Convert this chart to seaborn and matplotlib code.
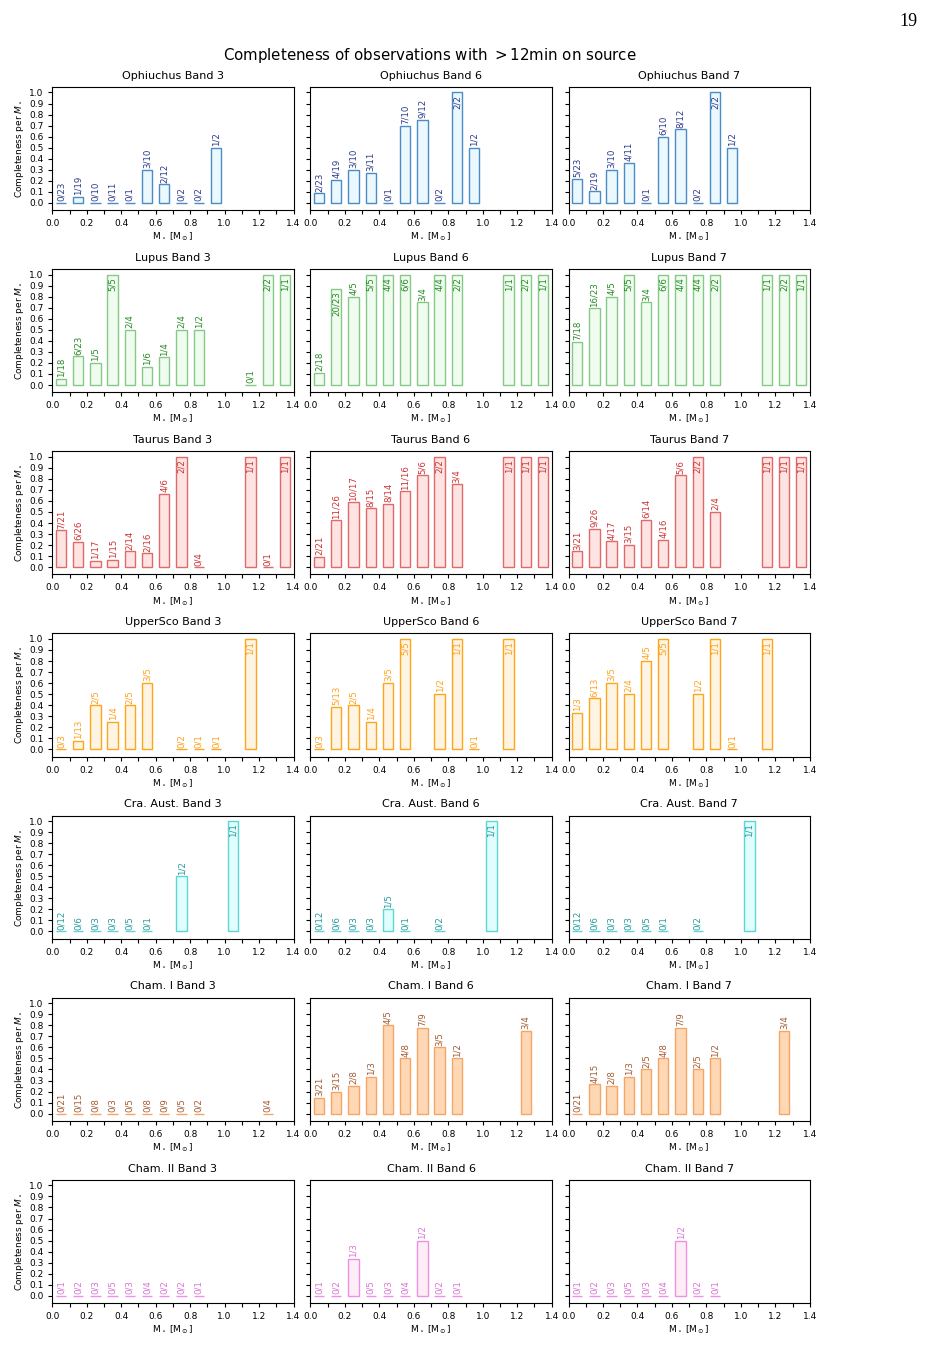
import numpy as np
import pandas as pd
import matplotlib.pyplot as plt
import seaborn as sns

# mass bin centres [Msun]
mass_bins = [0.05, 0.15, 0.25, 0.35, 0.45, 0.55, 0.65, 0.75, 0.85, 0.95, 1.05, 1.15, 1.25, 1.35]
band_names = ["Band 3", "Band 6", "Band 7"]
_ = None

# Ophiuchus
oph_total = [23, 19, 10, 11, 1, 10, 12, 2, 2, 2, _, _, _, _]
oph_b3 = [0, 1, 0, 0, 0, 3, 2, 0, 0, 1, _, _, _, _]
oph_b6 = [2, 4, 3, 3, 0, 7, 9, 0, 2, 1, _, _, _, _]
oph_b7 = [5, 2, 3, 4, 0, 6, 8, 0, 2, 1, _, _, _, _]

# Lupus
lup_total = [18, 23, 5, 5, 4, 6, 4, 4, 2, _, _, 1, 2, 1]
lup_b3 = [1, 6, 1, 5, 2, 1, 1, 2, 1, _, _, 0, 2, 1]
lup_b6 = [2, 20, 4, 5, 4, 6, 3, 4, 2, _, _, 1, 2, 1]
lup_b7 = [7, 16, 4, 5, 3, 6, 4, 4, 2, _, _, 1, 2, 1]

# Taurus
tau_total = [21, 26, 17, 15, 14, 16, 6, 2, 4, _, _, 1, 1, 1]
tau_b3 = [7, 6, 1, 1, 2, 2, 4, 2, 0, _, _, 1, 0, 1]
tau_b6 = [2, 11, 10, 8, 8, 11, 5, 2, 3, _, _, 1, 1, 1]
tau_b7 = [3, 9, 4, 3, 6, 4, 5, 2, 2, _, _, 1, 1, 1]

# Upper Sco
usc_total = [3, 13, 5, 4, 5, 5, _, 2, 1, 1, _, 1, _, _]
usc_b3 = [0, 1, 2, 1, 2, 3, _, 0, 0, 0, _, 1, _, _]
usc_b6 = [0, 5, 2, 1, 3, 5, _, 1, 1, 0, _, 1, _, _]
usc_b7 = [1, 6, 3, 2, 4, 5, _, 1, 1, 0, _, 1, _, _]

# Corona Australis
cra_total = [12, 6, 3, 3, 5, 1, _, 2, _, _, 1, _, _, _]
cra_b3 = [0, 0, 0, 0, 0, 0, _, 1, _, _, 1, _, _, _]
cra_b6 = [0, 0, 0, 0, 1, 0, _, 0, _, _, 1, _, _, _]
cra_b7 = [0, 0, 0, 0, 0, 0, _, 0, _, _, 1, _, _, _]

# Chamaeleon I
chi_total = [21, 15, 8, 3, 5, 8, 9, 5, 2, _, _, _, 4, _]
chi_b3 = [0, 0, 0, 0, 0, 0, 0, 0, 0, _, _, _, 0, _]
chi_b6 = [3, 3, 2, 1, 4, 4, 7, 3, 1, _, _, _, 3, _]
chi_b7 = [0, 4, 2, 1, 2, 4, 7, 2, 1, _, _, _, 3, _]

# Chamaeleon II
chii_total = [1, 2, 3, 5, 3, 4, 2, 2, 1, _, _, _, _, _]
chii_b3 = [0, 0, 0, 0, 0, 0, 0, 0, 0, _, _, _, _, _]
chii_b6 = [0, 0, 1, 0, 0, 0, 1, 0, 0, _, _, _, _, _]
chii_b7 = [0, 0, 0, 0, 0, 0, 1, 0, 0, _, _, _, _, _]

# (edge, fill, label text)
regions = [
    ("Ophiuchus", oph_total, [oph_b3, oph_b6, oph_b7], ("#4a8cc6", "#ebf8fe", "#2b3a8c")),
    ("Lupus", lup_total, [lup_b3, lup_b6, lup_b7], ("#86c886", "#effcef", "#248a24")),
    ("Taurus", tau_total, [tau_b3, tau_b6, tau_b7], ("#e06a6a", "#fde3e1", "#cc3333")),
    ("UpperSco", usc_total, [usc_b3, usc_b6, usc_b7], ("#ffa51a", "#fdf4e3", "#ffa01a")),
    ("Cra. Aust.", cra_total, [cra_b3, cra_b6, cra_b7], ("#5ad8d2", "#e2fdfd", "#249a9a")),
    ("Cham. I", chi_total, [chi_b3, chi_b6, chi_b7], ("#f5a566", "#fed8b5", "#a35a30")),
    ("Cham. II", chii_total, [chii_b3, chii_b6, chii_b7], ("#ee90e6", "#fdeef6", "#d874d2")),
]

sns.set_style("ticks")
plt.rcParams.update({
    "font.family": ["DejaVu Sans"],
    "text.color": "black",
    "axes.labelcolor": "black",
    "xtick.labelsize": 6.5,
    "ytick.labelsize": 6.5,
    "xtick.major.size": 3,
    "ytick.major.size": 3,
    "xtick.minor.size": 3,
    "xtick.major.width": 0.8,
    "ytick.major.width": 0.8,
    "xtick.minor.width": 0.8,
    "axes.linewidth": 0.8,
    "axes.edgecolor": "black",
    "xtick.color": "black",
    "ytick.color": "black",
})

fig, axes = plt.subplots(7, 3, figsize=(9.34, 13.48), dpi=100, sharey=True)
fig.subplots_adjust(left=0.056, right=0.867, top=0.9355, bottom=0.0334, wspace=0.07, hspace=0.48)

for i, (name, total, bands, (edge, face, txt)) in enumerate(regions):
    for j, (band, det) in enumerate(zip(band_names, bands)):
        ax = axes[i, j]
        df = pd.DataFrame({"mass": mass_bins, "n": det, "N": total}).dropna()
        df["frac"] = df["n"] / df["N"]
        sns.barplot(data=df, x="mass", y="frac", native_scale=True, width=0.6,
                    color=face, saturation=1, edgecolor=edge, linewidth=1,
                    errorbar=None, ax=ax)
        for m, n, N, f in df[["mass", "n", "N", "frac"]].itertuples(index=False):
            lab = f"{int(n)}/{int(N)}"
            if f > 0.85:
                ax.text(m, f - 0.02, lab, rotation=90, ha="center", va="top",
                        color=txt, fontsize=6.2)
            else:
                ax.text(m, f + 0.015, lab, rotation=90, ha="center", va="bottom",
                        color=txt, fontsize=6.2)
        ax.set_xlim(0, 1.4)
        ax.set_ylim(-0.065, 1.05)
        ax.set_xticks(np.arange(0, 1.41, 0.2))
        ax.set_xticklabels([f"{v:.1f}" for v in np.arange(0, 1.41, 0.2)])
        ax.set_xticks(np.arange(0.1, 1.4, 0.2), minor=True)
        ax.set_yticks(np.arange(0, 1.01, 0.1))
        ax.set_yticklabels([f"{v:.1f}" for v in np.arange(0, 1.01, 0.1)])
        ax.set_title(f"{name} {band}", fontsize=8, pad=6, color="black")
        ax.set_xlabel(r"M$_\star$ [M$_\odot$]", fontsize=6.5, labelpad=2)
        if j == 0:
            ax.set_ylabel(r"Completeness per $M_\star$", fontsize=6.5, labelpad=2)
        else:
            ax.set_ylabel("")
            ax.tick_params(axis="y", labelleft=False)

fig.suptitle(r"Completeness of observations with $>$12min on source", x=0.46, y=0.966, fontsize=10.8)
fig.text(0.982, 0.99, "19", ha="right", va="top", fontsize=13, family="Liberation Serif")

fig.savefig("out.png", dpi=100)
